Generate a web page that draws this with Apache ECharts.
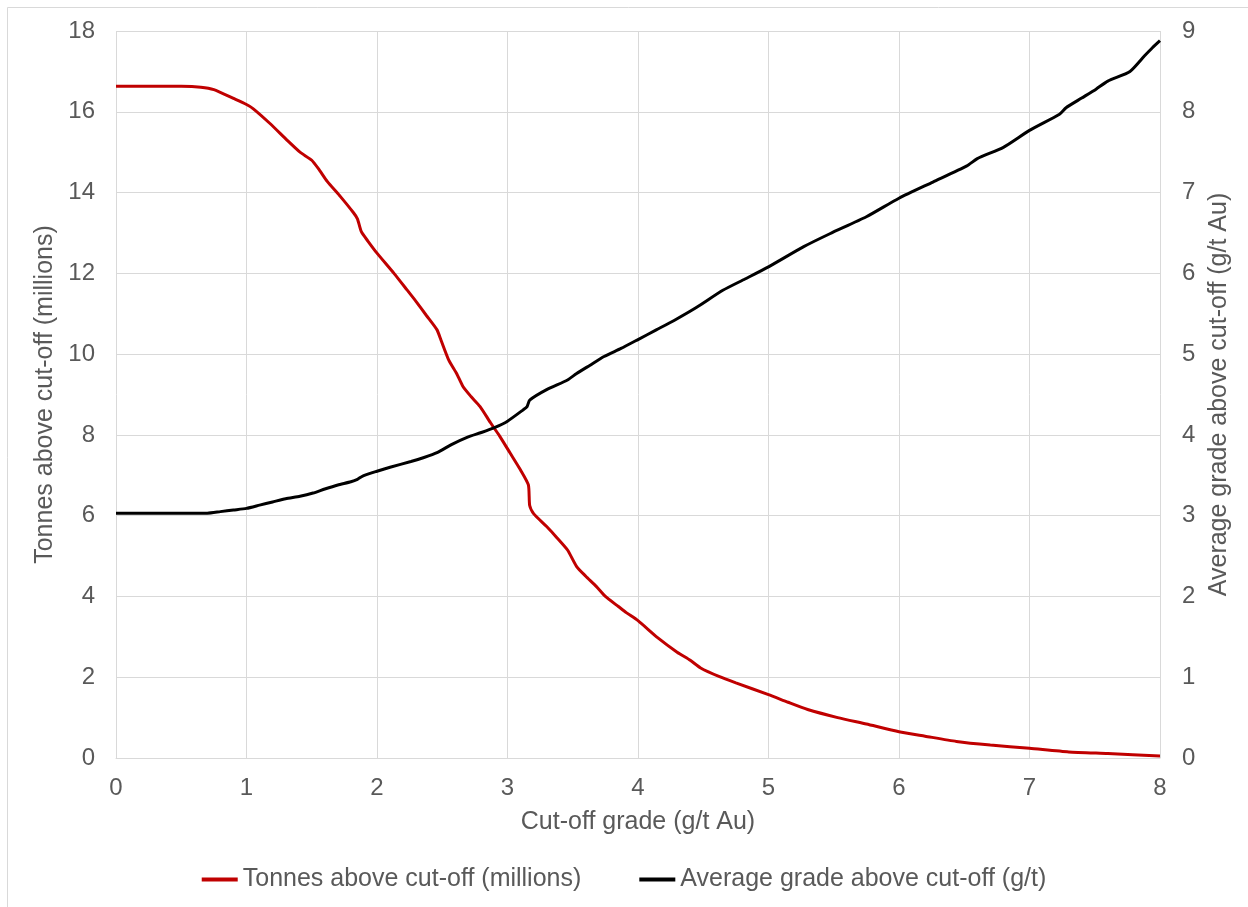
<!DOCTYPE html>
<html>
<head>
<meta charset="utf-8">
<title>Grade-tonnage curve</title>
<script src="https://cdn.jsdelivr.net/npm/echarts@6/dist/echarts.min.js"></script>
<style>
  html, body { margin: 0; padding: 0; background: #ffffff; }
  #chart { width: 1248px; height: 907px; }
</style>
</head>
<body>
<div id="chart"></div>
<script>
// Cut-off grade (g/t Au) and tonnes above cut-off (millions)
const tonnesCutoff = [0, 0.5, 0.65, 0.75, 0.9, 1.0, 1.05, 1.18, 1.31, 1.41, 1.5, 1.56, 1.62, 1.72, 1.82, 1.85, 1.88, 1.93,
  2.0, 2.13, 2.23, 2.3, 2.38, 2.46, 2.49, 2.55, 2.61, 2.66, 2.72, 2.79, 2.87, 2.94, 3.02, 3.1, 3.16, 3.17, 3.2,
  3.3, 3.38, 3.46, 3.53, 3.6, 3.68, 3.75, 3.85, 3.91, 4.0, 4.15, 4.3, 4.4, 4.48, 4.62, 4.75, 5.0, 5.15, 5.3,
  5.53, 5.75, 6.0, 6.2, 6.44, 6.7, 7.0, 7.3, 7.6, 8.0];
const tonnesAbove = [16.63, 16.63, 16.61, 16.55, 16.33, 16.18, 16.08, 15.71, 15.3, 15.0, 14.8, 14.55, 14.27, 13.9, 13.5, 13.35, 13.03, 12.8,
  12.5, 12.0, 11.59, 11.3, 10.95, 10.6, 10.35, 9.85, 9.52, 9.19, 8.95, 8.7, 8.3, 7.97, 7.55, 7.13, 6.76, 6.25, 6.05,
  5.73, 5.45, 5.15, 4.74, 4.5, 4.25, 4.0, 3.75, 3.6, 3.4, 2.98, 2.62, 2.42, 2.23, 2.02, 1.86, 1.57, 1.38, 1.2,
  1.0, 0.84, 0.65, 0.54, 0.41, 0.32, 0.24, 0.15, 0.11, 0.05];

// Cut-off grade (g/t Au) and average grade above cut-off (g/t Au)
const gradeCutoff = [0, 0.7, 0.8, 0.9, 1.0, 1.1, 1.2, 1.3, 1.41, 1.51, 1.6, 1.7, 1.8, 1.85, 1.89, 2.0, 2.1, 2.26, 2.36,
  2.46, 2.57, 2.69, 2.8, 2.9, 3.0, 3.12, 3.15, 3.17, 3.3, 3.46, 3.53, 3.63, 3.74, 3.87, 4.0, 4.14, 4.28, 4.45,
  4.65, 4.82, 5.0, 5.27, 5.47, 5.75, 6.0, 6.26, 6.52, 6.6, 6.8, 7.0, 7.23, 7.28, 7.4, 7.51, 7.6, 7.77, 7.88, 7.94, 8.0];
const gradeAbove = [3.03, 3.03, 3.05, 3.07, 3.09, 3.13, 3.17, 3.21, 3.24, 3.28, 3.33, 3.38, 3.42, 3.45, 3.49, 3.55, 3.6, 3.67, 3.72,
  3.78, 3.88, 3.97, 4.03, 4.09, 4.17, 4.31, 4.35, 4.43, 4.56, 4.68, 4.76, 4.86, 4.97, 5.07, 5.18, 5.3, 5.42, 5.58,
  5.79, 5.93, 6.08, 6.33, 6.49, 6.7, 6.93, 7.13, 7.33, 7.42, 7.56, 7.77, 7.97, 8.05, 8.17, 8.28, 8.38, 8.5, 8.69, 8.79, 8.88];

const seriesNames = ['Tonnes above cut-off (millions)', 'Average grade above cut-off (g/t)'];
const xAxisTitle = 'Cut-off grade (g/t Au)';
const leftAxisTitle = 'Tonnes above cut-off (millions)';
const rightAxisTitle = 'Average grade above cut-off (g/t Au)';

const pairs = (xs, ys) => xs.map((x, i) => [x, ys[i]]);

const FONT = '"Liberation Sans", Arial, sans-serif';
const TEXT = '#595959';
const GRID = '#d9d9d9';

const chart = echarts.init(document.getElementById('chart'), null, { renderer: 'canvas' });
chart.setOption({
  animation: false,
  backgroundColor: '#ffffff',
  textStyle: { fontFamily: FONT },
  graphic: [{
    type: 'rect',
    shape: { x: 7.5, y: 7.5, width: 1400, height: 1100 },
    style: { fill: 'none', stroke: GRID, lineWidth: 1 },
    silent: true
  }],
  grid: { left: 116, right: 88, top: 31, bottom: 149, containLabel: false },
  legend: {
    bottom: 10,
    left: 'center',
    itemWidth: 36,
    itemHeight: 4,
    itemGap: 58,
    icon: 'rect',
    textStyle: { color: TEXT, fontSize: 25, fontFamily: FONT },
    data: seriesNames
  },
  xAxis: {
    type: 'value',
    min: 0, max: 8, interval: 1,
    name: xAxisTitle,
    nameLocation: 'middle',
    nameGap: 52,
    nameTextStyle: { color: TEXT, fontSize: 25, fontFamily: FONT },
    axisLine: { show: true, lineStyle: { color: GRID, width: 1 } },
    axisTick: { show: false },
    axisLabel: { color: TEXT, fontSize: 24, margin: 18, fontFamily: FONT },
    splitLine: { show: true, lineStyle: { color: GRID, width: 1 } }
  },
  yAxis: [{
    type: 'value',
    position: 'left',
    min: 0, max: 18, interval: 2,
    name: leftAxisTitle,
    nameLocation: 'middle',
    nameRotate: 90,
    nameGap: 58,
    nameTextStyle: { color: TEXT, fontSize: 25, fontFamily: FONT },
    axisLine: { show: false },
    axisTick: { show: false },
    axisLabel: { color: TEXT, fontSize: 24, margin: 21, fontFamily: FONT },
    splitLine: { show: true, lineStyle: { color: GRID, width: 1 } }
  }, {
    type: 'value',
    position: 'right',
    min: 0, max: 9, interval: 1,
    name: rightAxisTitle,
    nameLocation: 'middle',
    nameRotate: 90,
    nameGap: 46,
    nameTextStyle: { color: TEXT, fontSize: 25, fontFamily: FONT },
    axisLine: { show: false },
    axisTick: { show: false },
    axisLabel: { color: TEXT, fontSize: 24, margin: 22, fontFamily: FONT },
    splitLine: { show: false }
  }],
  series: [{
    name: seriesNames[0],
    type: 'line',
    yAxisIndex: 0,
    data: pairs(tonnesCutoff, tonnesAbove),
    showSymbol: false,
    symbol: 'none',
    smooth: 0.2,
    color: '#c00000',
    lineStyle: { color: '#c00000', width: 3 }
  }, {
    name: seriesNames[1],
    type: 'line',
    yAxisIndex: 1,
    data: pairs(gradeCutoff, gradeAbove),
    showSymbol: false,
    symbol: 'none',
    smooth: 0.2,
    color: '#000000',
    lineStyle: { color: '#000000', width: 3 }
  }]
});
</script>
</body>
</html>
